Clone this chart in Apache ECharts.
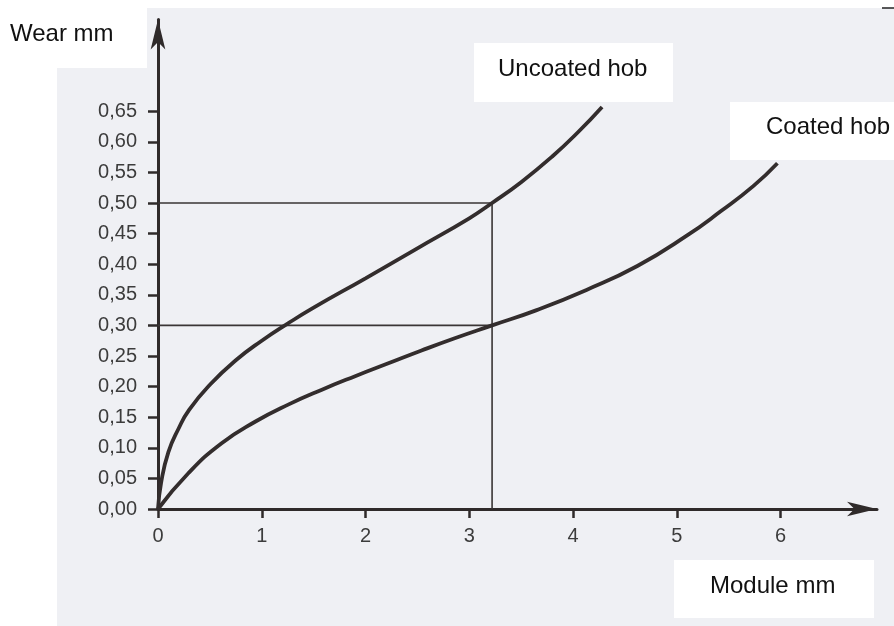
<!DOCTYPE html>
<html>
<head>
<meta charset="utf-8">
<script src="https://cdn.jsdelivr.net/npm/echarts@6/dist/echarts.min.js"></script>
<style>
html,body{margin:0;padding:0;background:#fff;}
#chart{width:894px;height:626px;}
</style>
</head>
<body>
<div id="chart"></div>
<script>
// ---- data ----
const xTicks = [0, 1, 2, 3, 4, 5, 6];
const yTicks = [0, 0.05, 0.10, 0.15, 0.20, 0.25, 0.30, 0.35, 0.40, 0.45, 0.50, 0.55, 0.60, 0.65];

const uncoatedModule = [0, 0.03, 0.1, 0.2, 0.3, 0.5, 0.75, 1.0, 1.25, 1.5, 2.0, 2.5, 3.0, 3.22, 3.5, 3.8, 4.05, 4.28];
const uncoatedWear   = [0, 0.043, 0.093, 0.132, 0.162, 0.203, 0.243, 0.275, 0.303, 0.329, 0.377, 0.426, 0.475, 0.50, 0.534, 0.576, 0.616, 0.657];

const coatedModule = [0, 0.29, 0.61, 0.94, 1.26, 1.58, 1.90, 2.22, 2.54, 2.86, 3.22, 3.65, 4.13, 4.62, 5.10, 5.42, 5.74, 5.97];
const coatedWear   = [0, 0.058, 0.107, 0.143, 0.171, 0.195, 0.217, 0.238, 0.259, 0.279, 0.30, 0.325, 0.358, 0.397, 0.447, 0.486, 0.528, 0.565];

const readModule = 3.22;
const readUncoated = 0.50;
const readCoated = 0.30;

const labelUncoated = 'Uncoated hob';
const labelCoated = 'Coated hob';
const labelX = 'Module mm';
const labelY = 'Wear mm';

// ---- chart ----
const zip = (a, b) => a.map((v, i) => [v, b[i]]);
const fmt = v => v.toFixed(2).replace('.', ',');
const ink = '#2f2a2a';
const font = '"Liberation Sans", Arial, Helvetica, sans-serif';

const chart = echarts.init(document.getElementById('chart'), null, {renderer: 'canvas'});
chart.setOption({
  backgroundColor: '#ffffff',
  animation: false,
  grid: {left: 158, right: 17, top: 19.4, bottom: 117, containLabel: false},
  xAxis: {
    type: 'value', min: 0, max: 6.93,
    axisLine: {show: true, onZero: true, symbol: ['none', 'arrow'], symbolSize: [11, 30],
      lineStyle: {color: ink, width: 3}},
    axisTick: {show: true, inside: false, length: 9, customValues: xTicks, lineStyle: {color: ink, width: 2.5}},
    axisLabel: {show: true, customValues: xTicks, margin: 17, fontSize: 20, color: '#3c3c3c',
      fontFamily: font, formatter: v => String(v)},
    splitLine: {show: false}
  },
  yAxis: {
    type: 'value', min: 0, max: 0.80,
    axisLine: {show: true, onZero: true, symbol: ['none', 'arrow'], symbolSize: [11, 30],
      lineStyle: {color: ink, width: 3}},
    axisTick: {show: true, inside: false, length: 10, customValues: yTicks, lineStyle: {color: ink, width: 2.5}},
    axisLabel: {show: true, customValues: yTicks, margin: 21, fontSize: 20, color: '#3c3c3c',
      fontFamily: font, formatter: v => fmt(v)},
    splitLine: {show: false}
  },
  series: [
    {type: 'line', name: 'ref50', data: [[0, readUncoated], [readModule, readUncoated], [readModule, 0]],
      showSymbol: false, lineStyle: {color: '#3a3535', width: 1.6}, z: 3},
    {type: 'line', name: 'ref30', data: [[0, readCoated], [readModule, readCoated]],
      showSymbol: false, lineStyle: {color: '#3a3535', width: 1.6}, z: 3},
    {type: 'line', name: labelUncoated, data: zip(uncoatedModule, uncoatedWear), smooth: 0.5,
      showSymbol: false, lineStyle: {color: '#332d2d', width: 3.8}, z: 4},
    {type: 'line', name: labelCoated, data: zip(coatedModule, coatedWear), smooth: 0.5,
      showSymbol: false, lineStyle: {color: '#332d2d', width: 3.8}, z: 4}
  ],
  graphic: [
    {type: 'rect', z: -10, silent: true, shape: {x: 57, y: 8, width: 837, height: 618}, style: {fill: '#eff0f4'}},
    {type: 'line', z: 10, shape: {x1: 882, y1: 8, x2: 894, y2: 8}, style: {stroke: '#222', lineWidth: 1.5}},
    {type: 'rect', z: 100, shape: {x: 0, y: 8, width: 147, height: 60}, style: {fill: '#ffffff'}},
    {type: 'text', z: 101, x: 10, y: 34, style: {text: labelY, fontSize: 24, fontFamily: font, fill: '#111', textVerticalAlign: 'middle'}},
    {type: 'rect', z: 100, shape: {x: 474, y: 43, width: 199, height: 59}, style: {fill: '#ffffff'}},
    {type: 'text', z: 101, x: 498, y: 69, style: {text: labelUncoated, fontSize: 24, fontFamily: font, fill: '#111', textVerticalAlign: 'middle'}},
    {type: 'rect', z: 100, shape: {x: 730, y: 102, width: 164, height: 58}, style: {fill: '#ffffff'}},
    {type: 'text', z: 101, x: 766, y: 127, style: {text: labelCoated, fontSize: 24, fontFamily: font, fill: '#111', textVerticalAlign: 'middle'}},
    {type: 'rect', z: 100, shape: {x: 674, y: 560, width: 200, height: 58}, style: {fill: '#ffffff'}},
    {type: 'text', z: 101, x: 710, y: 586, style: {text: labelX, fontSize: 24, fontFamily: font, fill: '#111', textVerticalAlign: 'middle'}}
  ]
});
</script>
</body>
</html>
